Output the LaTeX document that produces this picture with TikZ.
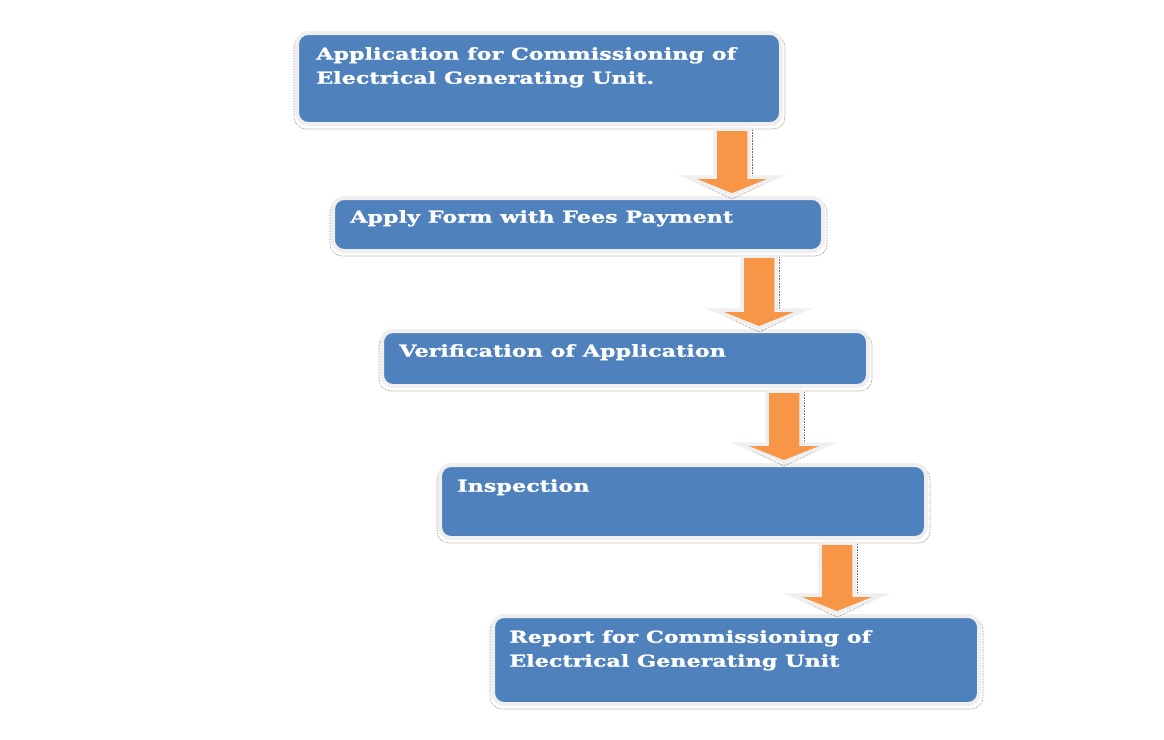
\documentclass[tikz,border=0pt]{standalone}
\usepackage{fontspec}
\newfontfamily\boxfont[FakeStretch=1.35,FakeBold=1.2]{DejaVu Serif}
\usetikzlibrary{calc}
\definecolor{boxblue}{HTML}{4F81BD}
\definecolor{arrorange}{HTML}{F79646}
\definecolor{glow}{HTML}{EFEFEF}
\definecolor{shade}{HTML}{7A6A5A}
\tikzset{
  flowbox/.style={rectangle, rounded corners=11pt, fill=boxblue, draw=glow, line width=4pt, inner sep=0pt},
  boxshadow/.style={rounded corners=12pt, draw=shade, line width=0.6pt, densely dotted},
  boxtext/.style={anchor=north west, inner sep=0pt, text=white, align=left,
     font=\boxfont\bfseries\fontsize{16.5}{24}\selectfont},
  arrowbody/.style={fill=arrorange, draw=glow, line width=3.5pt, line join=miter},
  arrowshade/.style={draw=shade, line width=0.6pt, densely dotted}
}
\newcommand{\flowarrow}[3]{%
  \draw[arrowshade] let \p1=(#2.south), \p2=(#3.north) in
    ({#1pt-49pt},{\y2+20pt}) -- ({#1pt},{\y2-3pt}) -- ({#1pt+49pt},{\y2+20pt});
  \draw[arrowshade] let \p1=(#2.south), \p2=(#3.north) in
    ({#1pt+20pt},{\y1-4pt}) -- ({#1pt+20pt},{\y2+17pt});
  \filldraw[arrowbody] let \p1=(#2.south), \p2=(#3.north) in
    ({#1pt-17pt},{\y1-3pt}) -- ({#1pt+17pt},{\y1-3pt}) -- ({#1pt+17pt},{\y2+19pt})
    -- ({#1pt+45pt},{\y2+19pt}) -- ({#1pt},{\y2+1pt}) -- ({#1pt-45pt},{\y2+19pt})
    -- ({#1pt-17pt},{\y2+19pt}) -- cycle;
}
\begin{document}
\begin{tikzpicture}[x=1pt,y=-1pt]
\useasboundingbox (0,0) rectangle (1164,739);
% shadows
\foreach \xa/\ya/\xb/\yb in {297/33/781/124, 333/198/823/251, 382/331/868/386, 440/465/926/538, 493/616/979/704}{
  \draw[boxshadow] (\xa-3,\ya+2) rectangle (\xb+4,\yb+5);
}
\node[flowbox, minimum width=484pt, minimum height=91pt] (b1) at (539,78.5) {};
\node[flowbox, minimum width=490pt, minimum height=53pt] (b2) at (578,224.5) {};
\node[flowbox, minimum width=486pt, minimum height=55pt] (b3) at (625,358.5) {};
\node[flowbox, minimum width=486pt, minimum height=73pt] (b4) at (683,501.5) {};
\node[flowbox, minimum width=486pt, minimum height=88pt] (b5) at (736,660) {};
\node[boxtext] (t1) at (316,47) {Application for Commissioning of\\Electrical Generating Unit.};
\node[boxtext] (t2) at (350,210) {Apply Form with Fees Payment};
\node[boxtext] (t3) at (399,344) {Verification of Application};
\node[boxtext] (t4) at (457,479) {Inspection};
\node[boxtext] (t5) at (509,630) {Report for Commissioning of\\Electrical Generating Unit};
\flowarrow{732}{b1}{b2}
\flowarrow{759}{b2}{b3}
\flowarrow{784}{b3}{b4}
\flowarrow{837}{b4}{b5}
\end{tikzpicture}
\end{document}
